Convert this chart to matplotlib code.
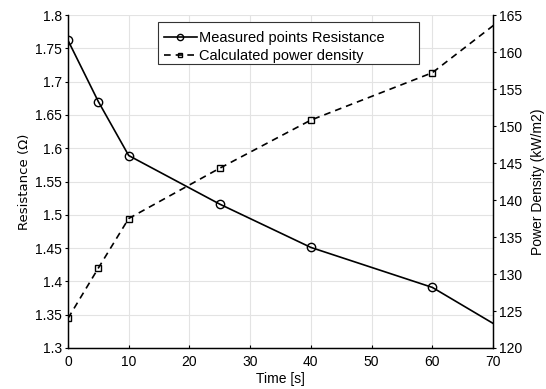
import matplotlib.pyplot as plt
from matplotlib.patches import Rectangle

plt.rcParams['font.family'] = ['Liberation Sans', 'DejaVu Sans']

time = [0, 5, 10, 25, 40, 60, 80]
resistance = [1.762, 1.670, 1.589, 1.516, 1.451, 1.391, 1.283]
power = [124.0, 130.8, 137.5, 144.3, 150.8, 157.2, 169.9]

fig = plt.figure(figsize=(5.46, 3.89), dpi=100)
ax1 = fig.add_axes([0.1245, 0.1054, 0.7785, 0.856])

ax1.plot(time, resistance, 'k-', marker='o', mfc='none', ms=6, mew=1.0, lw=1.2,
         label='Measured points Resistance')
ax1.set_xlim(0, 70)
ax1.set_ylim(1.3, 1.8)
ax1.set_yticks([1.3, 1.35, 1.4, 1.45, 1.5, 1.55, 1.6, 1.65, 1.7, 1.75, 1.8])
ax1.set_yticklabels(['1.3', '1.35', '1.4', '1.45', '1.5', '1.55', '1.6', '1.65', '1.7', '1.75', '1.8'])
ax1.set_xticks(range(0, 71, 10))
ax1.grid(True, color='#e3e3e3', lw=0.8)
ax1.set_axisbelow(True)
ax1.set_xlabel('Time [s]', fontsize=10, labelpad=2)
ax1.set_ylabel('Resistance (Ω)', fontsize=9.5, labelpad=3, family=['DejaVu Sans'])
ax1.tick_params(axis='y', labelsize=10, length=2.5, width=0.8, pad=2)
ax1.tick_params(axis='x', labelsize=10, length=2.5, width=0.8, direction='in', pad=5)

ax2 = ax1.twinx()
ax2.plot(time, power, 'k--', marker='s', mfc='none', ms=4, mew=1.0, lw=1.2,
         dashes=(4, 3), label='Calculated power density')
ax2.set_ylim(120, 165)
ax2.set_ylabel('Power Density (kW/m2)', fontsize=10, labelpad=6)
ax2.tick_params(labelsize=10, length=2.5, width=0.8, pad=2)

for a in (ax1, ax2):
    for s in a.spines.values():
        s.set_linewidth(0.9)
    a.spines['top'].set_visible(False)

# legend box is wider than its text in the original, so draw the frame by hand
ax2.add_patch(Rectangle((0.212, 0.853), 0.614, 0.126, transform=ax2.transAxes,
                        facecolor='white', edgecolor='#333333', lw=0.8, zorder=4.5,
                        clip_on=False))
h1, l1 = ax1.get_legend_handles_labels()
h2, l2 = ax2.get_legend_handles_labels()
leg = ax2.legend(h1 + h2, l1 + l2, loc='upper left',
                 bbox_to_anchor=(0.212, 0.970),
                 fontsize=10.5, frameon=False,
                 borderpad=0.4, handlelength=2.25, handletextpad=0.15, labelspacing=0.3,
                 borderaxespad=0, markerscale=0.75)

fig.savefig('out.png', dpi=100)
